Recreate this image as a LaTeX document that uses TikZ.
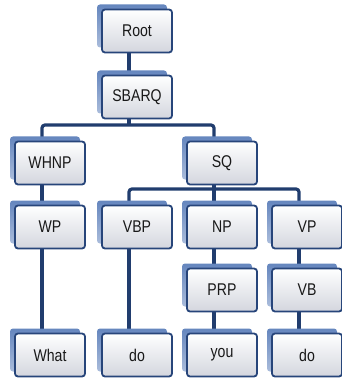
\documentclass[tikz,border=0pt]{standalone}
\usepackage{fontspec}
\setmainfont[FakeStretch=0.83]{Liberation Sans}
\usetikzlibrary{shadows,backgrounds}
\definecolor{boxline}{HTML}{27457A}
\definecolor{shadowblue}{HTML}{6586BE}
\definecolor{connline}{HTML}{213D6E}
\definecolor{boxbottom}{HTML}{D3D6DE}
\tikzset{
  tag/.style={draw=boxline, line width=1.8pt, rounded corners=3pt,
    top color=white, bottom color=boxbottom,
    minimum width=70pt, minimum height=43pt, inner sep=0pt,
    font=\fontsize{17}{17}\selectfont, text=black!90,
    general shadow={shadow xshift=-5pt, shadow yshift=5pt, draw=none,
      top color=shadowblue, bottom color=shadowblue!55}},
  conn/.style={draw=connline, line width=3.2pt},
}
\begin{document}
\begin{tikzpicture}[x=1pt,y=-1pt]
   \useasboundingbox (0,0) rectangle (341,379);
   \node[tag] (root)  at (137,31)  {Root};
   \node[tag] (sbarq) at (137,97)  {SBARQ};
   \node[tag] (whnp)  at (50,163)  {WHNP};
   \node[tag] (sq)    at (222,163) {SQ};
   \node[tag] (wp)    at (50,227)  {WP};
   \node[tag] (vbp)   at (137,227) {VBP};
   \node[tag] (np)    at (222,227) {NP};
   \node[tag] (vp)    at (307,227) {VP};
   \node[tag] (prp)   at (222,290) {PRP};
   \node[tag] (vb)    at (307,290) {VB};
   \node[tag] (what)  at (50,355)  {What};
   \node[tag] (do1)   at (137,355) {do};
   \node[tag] (you)   at (222,355) {you};
   \node[tag] (do2)   at (307,355) {do};
   \coordinate (bar1) at (129,125);
   \coordinate (bar2) at (214,189);
   % connectors behind the boxes
   \begin{pgfonlayer}{background}
     \foreach \a/\b in {root/sbarq, whnp/wp, wp/what, vbp/do1, sq/np, np/prp, prp/you, vp/vb, vb/do2}
       \draw[conn] ([xshift=-8pt]\a.south) -- ([xshift=-8pt]\b.north);
     \draw[conn] ([xshift=-8pt]sbarq.south) -- (bar1);
     \draw[conn,rounded corners=3pt] ([xshift=-8pt]whnp.north) |- (bar1) -| ([xshift=-8pt]sq.north);
     \draw[conn,rounded corners=3pt] ([xshift=-8pt]vbp.north) |- (bar2) -| ([xshift=-8pt]vp.north);
   \end{pgfonlayer}
\end{tikzpicture}
\end{document}
